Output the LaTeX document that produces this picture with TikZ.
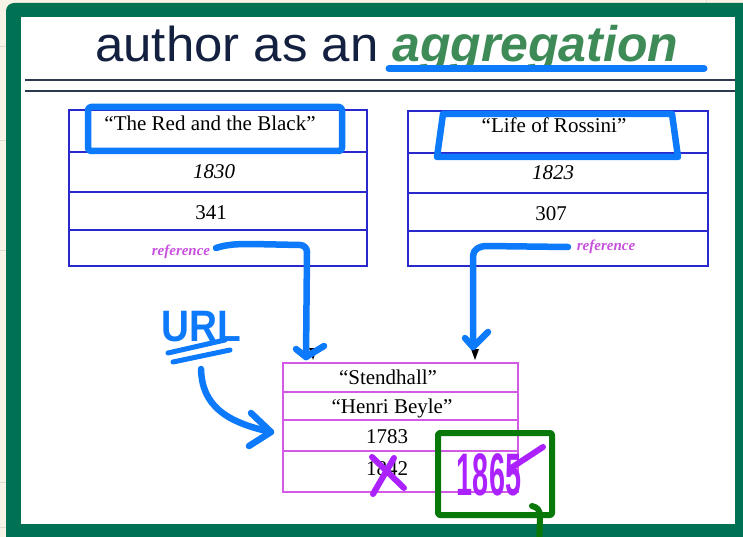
\documentclass[tikz,border=0pt]{standalone}
\usepackage{fontspec}
\setmainfont{Liberation Serif}
\newfontfamily\headfont{Liberation Sans}
\usetikzlibrary{arrows.meta}
\definecolor{framegreen}{RGB}{0,113,82}
\definecolor{deskcream}{RGB}{247,243,231}
\definecolor{gridgrey}{RGB}{222,220,210}
\definecolor{titlenavy}{RGB}{20,32,64}
\definecolor{agggreen}{RGB}{62,139,88}
\definecolor{penblue}{RGB}{12,122,250}
\definecolor{rulenavy}{RGB}{44,58,80}
\definecolor{recblue}{RGB}{40,40,205}
\definecolor{recmagenta}{RGB}{210,90,228}
\definecolor{refmagenta}{RGB}{200,80,222}
\definecolor{inkpurple}{RGB}{172,34,255}
\definecolor{inkgreen}{RGB}{8,120,8}
\begin{document}
\begin{tikzpicture}[x=1pt,y=-1pt,
  cell/.style={draw, line width=1.6pt, inner sep=0pt, outer sep=0pt, anchor=north west},
  bookcell/.style={cell, draw=recblue},
  authcell/.style={cell, draw=recmagenta, minimum width=235pt},
  celltext/.style={font=\fontsize{21}{24}\selectfont, inner sep=0pt, anchor=base},
  reftext/.style={font=\fontsize{15}{18}\selectfont\bfseries\itshape, text=refmagenta, inner sep=0pt, anchor=base},
  pen/.style={draw=penblue, line width=6.5pt, line cap=round, line join=round},
  purpleink/.style={draw=inkpurple, line width=6pt, line cap=round, line join=round},
  greenink/.style={draw=inkgreen, line width=6pt, line cap=round, line join=round},
  oldtip/.style={fill=black}]
\useasboundingbox (0,0) rectangle (743,537);

% desk background with faint sheet grid
\fill[deskcream] (0,0) rectangle (743,537);
\foreach \gy in {46,140,250,482,527}
  \draw[gridgrey, line width=0.8pt] (0,\gy) -- (6,\gy);
\draw[gridgrey, line width=0.8pt] (706,0) -- (706,3);

% slide frame
\fill[framegreen, rounded corners=8pt] (6,3) rectangle (770,570);
\fill[white] (21,17) rectangle (735,524);

% title
\node[font=\headfont\fontsize{49}{52}\selectfont, text=titlenavy, xscale=1.04, inner sep=0pt, anchor=base west] (ttl) at (95,62) {author as an};
\node[font=\headfont\fontsize{50}{54}\selectfont\bfseries\itshape, text=agggreen, inner sep=0pt, anchor=base west] (agg) at (392,62) {aggregation};
\coordinate (ulA) at (389,68.5);
\coordinate (ulB) at (704,68.5);
\draw[pen, line width=7pt] (ulA) -- (ulB);

% double rule under the title
\coordinate (r1a) at (25,80); \coordinate (r1b) at (735,80);
\coordinate (r2a) at (25,91); \coordinate (r2b) at (735,91);
\draw[rulenavy, line width=2.2pt] (r1a) -- (r1b);
\draw[rulenavy, line width=2.2pt] (r2a) -- (r2b);

% first book record
\node[bookcell, minimum width=298pt, minimum height=42pt] (b1a) at (69,110) {};
\node[bookcell, minimum width=298pt, minimum height=40pt] (b1b) at (69,152) {};
\node[bookcell, minimum width=298pt, minimum height=38pt] (b1c) at (69,192) {};
\node[bookcell, minimum width=298pt, minimum height=36pt] (b1d) at (69,230) {};
\node[celltext] (b1ta) at (210,131) {“The Red and the Black”};
\node[celltext, font=\fontsize{21}{24}\selectfont\itshape] (b1tb) at (214,179) {1830};
\node[celltext] (b1tc) at (211,219) {341};
\node[reftext] (b1ref) at (181,255) {reference};

% second book record
\node[bookcell, minimum width=300pt, minimum height=42pt] (b2a) at (408,111) {};
\node[bookcell, minimum width=300pt, minimum height=40pt] (b2b) at (408,153) {};
\node[bookcell, minimum width=300pt, minimum height=38pt] (b2c) at (408,193) {};
\node[bookcell, minimum width=300pt, minimum height=35pt] (b2d) at (408,231) {};
\node[celltext] (b2ta) at (554,133) {“Life of Rossini”};
\node[celltext, font=\fontsize{21}{24}\selectfont\itshape] (b2tb) at (553,180) {1823};
\node[celltext] (b2tc) at (551,220) {307};
\node[reftext] (b2ref) at (606,250) {reference};

% author record
\node[authcell, minimum height=29pt] (aa) at (283,363) {};
\node[authcell, minimum height=28pt] (ab) at (283,392) {};
\node[authcell, minimum height=31pt] (ac) at (283,420) {};
\node[authcell, minimum height=41pt] (ad) at (283,451) {};
\node[celltext] (ata) at (388,384) {“Stendhall”};
\node[celltext] (atb) at (392,413) {“Henri Beyle”};
\node[celltext] (atc) at (387,443) {1783};
\node[celltext] (atd) at (387,475) {1842};

% tips of the original reference arrows
\fill[oldtip] (309,348) -- (317,348) -- (313,360) -- cycle;
\fill[oldtip] (471,349) -- (479,349) -- (475,360) -- cycle;

% pen marks: boxes round the titles
\draw[pen, rounded corners=3pt] (88,107) rectangle (342,151);
\draw[pen] (443,114) -- (672,114) -- (678,157) -- (437,157) -- cycle;

% pen marks: reference arrows
\coordinate (p1s) at (216,248);
\coordinate (p1e) at (306,357);
\draw[pen] (p1s) .. controls (228,244) and (240,244) .. (252,244)
  -- (300,245) to[out=0,in=90] (307,252) -- (p1e);
\draw[pen] (296,349) -- (p1e) -- (324,346);
\coordinate (p2s) at (568,247);
\coordinate (p2e) at (473,347);
\draw[pen] (p2s) -- (486,246) to[out=180,in=90] (473,256) -- (p2e);
\draw[pen] (465,338) -- (p2e) -- (488,332);

% pen marks: URL note with its arrow
\node[font=\headfont\fontsize{44}{48}\selectfont\bfseries, text=penblue, xscale=0.88, inner sep=0pt, anchor=base west] (url) at (161,341) {URL};
\coordinate (u1a) at (168,353); \coordinate (u1b) at (225,340);
\coordinate (u2a) at (173,362); \coordinate (u2b) at (230,350);
\draw[pen, line width=5pt] (u1a) -- (u1b);
\draw[pen, line width=5pt] (u2a) -- (u2b);
\coordinate (ua) at (201,369);
\coordinate (ub) at (271,432);
\draw[pen] (ua) .. controls (202,405) and (225,422) .. (ub);
\draw[pen] (251,413) -- (ub) -- (249,446);

% purple corrections
\draw[purpleink] (372,457) -- (404,488);
\draw[purpleink] (394,458) -- (373,494);
\node[font=\headfont\fontsize{60}{62}\selectfont\bfseries, text=inkpurple, xscale=0.48, inner sep=0pt] (yr) at (489,475) {1865};
\coordinate (sla) at (511,468); \coordinate (slb) at (543,447);
\draw[purpleink] (sla) -- (slb);

% green box with its tail
\draw[greenink, rounded corners=2pt] (438,433) rectangle (552,515);
\coordinate (gt) at (532,506);
\draw[greenink] (gt) .. controls (537,507) and (540,510) .. (540,516) -- (539,545);
\end{tikzpicture}
\end{document}
